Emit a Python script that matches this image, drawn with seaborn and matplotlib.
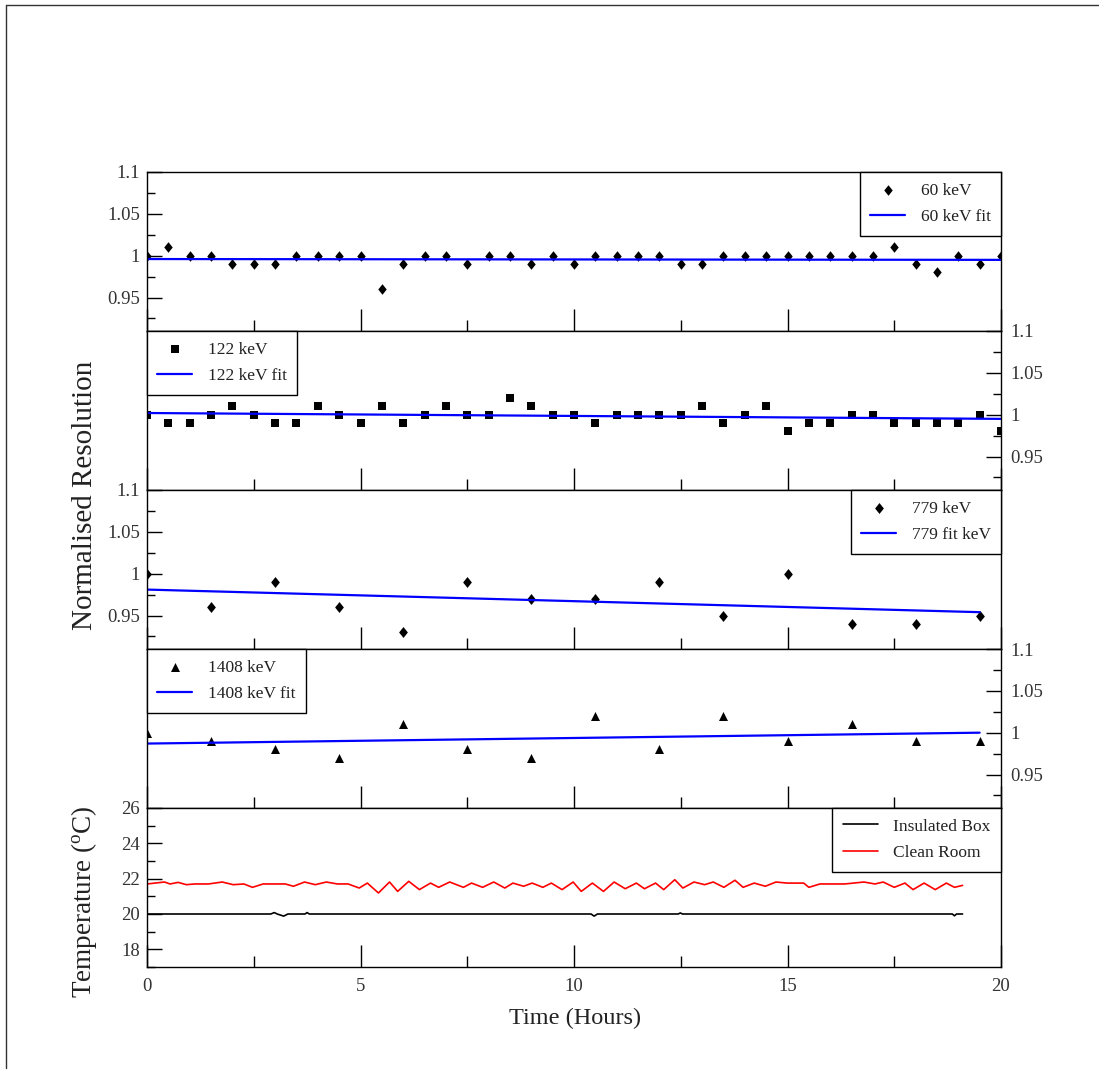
import numpy as np
import pandas as pd
import matplotlib
matplotlib.use("Agg")
import matplotlib.pyplot as plt
from matplotlib.ticker import FixedLocator, FixedFormatter
from matplotlib.lines import Line2D
from matplotlib.path import Path
import seaborn as sns

# ---------------- data ----------------
time_half = [0, 0.5, 1, 1.5, 2, 2.5, 3, 3.5, 4, 4.5, 5, 5.5, 6, 6.5, 7, 7.5, 8, 8.5, 9, 9.5,
             10, 10.5, 11, 11.5, 12, 12.5, 13, 13.5, 14, 14.5, 15, 15.5, 16, 16.5, 17, 17.5,
             18, 18.5, 19, 19.5, 20]
res_60 = [1.00, 1.01, 1.00, 1.00, 0.99, 0.99, 0.99, 1.00, 1.00, 1.00, 1.00, 0.96, 0.99, 1.00,
          1.00, 0.99, 1.00, 1.00, 0.99, 1.00, 0.99, 1.00, 1.00, 1.00, 1.00, 0.99, 0.99, 1.00,
          1.00, 1.00, 1.00, 1.00, 1.00, 1.00, 1.00, 1.01, 0.99, 0.98, 1.00, 0.99, 1.00]
res_122 = [1.00, 0.99, 0.99, 1.00, 1.01, 1.00, 0.99, 0.99, 1.01, 1.00, 0.99, 1.01, 0.99, 1.00,
           1.01, 1.00, 1.00, 1.02, 1.01, 1.00, 1.00, 0.99, 1.00, 1.00, 1.00, 1.00, 1.01, 0.99,
           1.00, 1.01, 0.98, 0.99, 0.99, 1.00, 1.00, 0.99, 0.99, 0.99, 0.99, 1.00, 0.98]

time_15 = [0, 1.5, 3, 4.5, 6, 7.5, 9, 10.5, 12, 13.5, 15, 16.5, 18, 19.5]
res_779 = [1.00, 0.96, 0.99, 0.96, 0.93, 0.99, 0.97, 0.97, 0.99, 0.95, 1.00, 0.94, 0.94, 0.95]
res_1408 = [1.00, 0.99, 0.98, 0.97, 1.01, 0.98, 0.97, 1.02, 0.98, 1.02, 0.99, 1.01, 0.99, 0.99]

fit_60_x, fit_60_y = [0, 20], [0.996, 0.995]
fit_122_x, fit_122_y = [0, 20], [1.002, 0.995]
fit_779_x, fit_779_y = [0, 19.5], [0.981, 0.954]
fit_1408_x, fit_1408_y = [0, 19.5], [0.987, 1.000]

clean_t = [0.0, 0.41, 0.54, 0.73, 0.92, 1.12, 1.44, 1.76, 2.02, 2.27, 2.47, 2.72, 3.24, 3.43,
           3.69, 3.94, 4.20, 4.46, 4.71, 4.97, 5.16, 5.42, 5.68, 5.87, 6.13, 6.38, 6.64, 6.83,
           7.09, 7.41, 7.60, 7.86, 8.12, 8.38, 8.57, 8.82, 9.02, 9.27, 9.47, 9.72, 9.98, 10.17,
           10.43, 10.69, 10.94, 11.20, 11.46, 11.65, 11.91, 12.10, 12.36, 12.55, 12.81, 13.06,
           13.26, 13.51, 13.77, 13.96, 14.22, 14.48, 14.73, 14.99, 15.38, 15.50, 15.76, 16.34,
           16.79, 17.05, 17.24, 17.50, 17.75, 17.94, 18.20, 18.46, 18.72, 18.91, 19.10]
clean_T = [21.70, 21.81, 21.70, 21.79, 21.66, 21.70, 21.70, 21.81, 21.66, 21.70, 21.51, 21.70,
           21.70, 21.57, 21.81, 21.66, 21.81, 21.70, 21.70, 21.47, 21.75, 21.19, 21.81, 21.28,
           21.85, 21.38, 21.75, 21.51, 21.81, 21.51, 21.75, 21.51, 21.81, 21.47, 21.75, 21.57,
           21.75, 21.51, 21.75, 21.38, 21.81, 21.28, 21.75, 21.28, 21.81, 21.43, 21.75, 21.43,
           21.75, 21.38, 21.94, 21.47, 21.81, 21.66, 21.81, 21.51, 21.91, 21.51, 21.75, 21.57,
           21.81, 21.75, 21.75, 21.51, 21.70, 21.70, 21.81, 21.70, 21.81, 21.51, 21.75, 21.38,
           21.75, 21.38, 21.75, 21.51, 21.62]

box_t = [0.0, 2.90, 2.98, 3.05, 3.20, 3.30, 3.70, 3.75, 3.80, 10.40, 10.47, 10.55, 12.44,
         12.49, 12.54, 18.86, 18.91, 18.96, 19.10]
box_T = [20.0, 20.0, 20.08, 20.0, 19.88, 20.0, 20.0, 20.08, 20.0, 20.0, 19.88, 20.0, 20.0,
         20.06, 20.0, 20.0, 19.90, 20.0, 20.0]

x_major = [0, 5, 10, 15, 20]
x_minor = [2.5, 7.5, 12.5, 17.5]
x_labels = ["0", "5", "10", "15", "20"]
res_major = [0.95, 1.0, 1.05, 1.1]
res_minor = [0.925, 0.975, 1.025, 1.075]
res_labels = ["0.95", "1", "1.05", "1.1"]
temp_major = [18, 20, 22, 24, 26]
temp_minor = [17, 19, 21, 23, 25]
temp_labels = ["18", "20", "22", "24", "26"]

# ---------------- style ----------------
sns.set_theme(style="white")
plt.rcParams['font.family'] = ['Liberation Serif', 'DejaVu Serif']
plt.rcParams['mathtext.fontset'] = 'custom'
plt.rcParams['mathtext.rm'] = 'Liberation Serif'
plt.rcParams['mathtext.it'] = 'Liberation Serif:italic'

TICK_COLOR = '#333333'
fig = plt.figure(figsize=(10.99, 10.77), dpi=100)
left, right, top, bottom = 147 / 1099, 1001 / 1099, 1 - 172 / 1077, 1 - 967 / 1077
h = (top - bottom) / 5
axes = [fig.add_axes([left, top - (i + 1) * h, right - left, h]) for i in range(5)]

diamond = Path([(0, 1), (0.8, 0), (0, -1), (-0.8, 0), (0, 1)],
               [Path.MOVETO, Path.LINETO, Path.LINETO, Path.LINETO, Path.CLOSEPOLY])


def style(ax, side, ymajor, yminor, ylabels, ylim, bottom_labels=False):
    for s in ax.spines.values():
        s.set_color('black')
        s.set_linewidth(1.0)
    ax.set_xlim(0, 20)
    ax.set_ylim(*ylim)
    ax.xaxis.set_major_locator(FixedLocator(x_major))
    ax.xaxis.set_minor_locator(FixedLocator(x_minor))
    ax.xaxis.set_major_formatter(FixedFormatter(x_labels))
    ax.tick_params(axis='x', which='both', direction='in', bottom=True, top=False,
                   color='black', width=1.0, labelbottom=bottom_labels,
                   labelsize=13.5, labelcolor=TICK_COLOR, pad=8)
    ax.tick_params(axis='x', which='major', length=16)
    ax.tick_params(axis='x', which='minor', length=8)
    ax.yaxis.set_major_locator(FixedLocator(ymajor))
    ax.yaxis.set_minor_locator(FixedLocator(yminor))
    ax.yaxis.set_major_formatter(FixedFormatter(ylabels))
    if side == 'left':
        ax.tick_params(axis='y', which='both', direction='in', left=True, right=False,
                       labelleft=True, labelright=False, pad=5)
    else:
        ax.tick_params(axis='y', which='both', direction='in', left=False, right=True,
                       labelleft=False, labelright=True, pad=7)
    ax.tick_params(axis='y', which='both', color='black', width=1.0,
                   labelsize=13.5, labelcolor=TICK_COLOR)
    ax.tick_params(axis='y', which='major', length=11)
    ax.tick_params(axis='y', which='minor', length=6)
    ax.set_xlabel('')
    ax.set_ylabel('')


def legend(ax, loc):
    leg = ax.legend(loc=loc, borderaxespad=0, frameon=True, fancybox=False,
                    edgecolor='black', framealpha=1, fontsize=12.5, handlelength=2.0,
                    handletextpad=0.9, labelspacing=0.6, borderpad=0.6, scatterpoints=1)
    leg.get_frame().set_linewidth(1.0)
    for t in leg.get_texts():
        t.set_color('#222222')


ylim_res = (0.91, 1.1)

# Panel 1: 60 keV
ax = axes[0]
sns.scatterplot(x=time_half, y=res_60, marker=diamond, s=58, color='black',
                edgecolor='black', linewidth=0, ax=ax, label='60 keV')
sns.lineplot(x=fit_60_x, y=fit_60_y, color='#0000ff', lw=1.6, ax=ax, label='60 keV fit',
             estimator=None)
style(ax, 'left', res_major, res_minor, res_labels, ylim_res)
legend(ax, 'upper right')

# Panel 2: 122 keV
ax = axes[1]
sns.scatterplot(x=time_half, y=res_122, marker='s', s=40, color='black',
                edgecolor='black', linewidth=0, ax=ax, label='122 keV')
sns.lineplot(x=fit_122_x, y=fit_122_y, color='#0000ff', lw=1.6, ax=ax, label='122 keV fit',
             estimator=None)
style(ax, 'right', res_major, res_minor, res_labels, ylim_res)
legend(ax, 'upper left')

# Panel 3: 779 keV
ax = axes[2]
sns.scatterplot(x=time_15, y=res_779, marker=diamond, s=62, color='black',
                edgecolor='black', linewidth=0, ax=ax, label='779 keV')
sns.lineplot(x=fit_779_x, y=fit_779_y, color='#0000ff', lw=1.6, ax=ax, label='779 fit keV',
             estimator=None)
style(ax, 'left', res_major, res_minor, res_labels, ylim_res)
legend(ax, 'upper right')

# Panel 4: 1408 keV
ax = axes[3]
sns.scatterplot(x=time_15, y=res_1408, marker='^', s=42, color='black',
                edgecolor='black', linewidth=0, ax=ax, label='1408 keV')
sns.lineplot(x=fit_1408_x, y=fit_1408_y, color='#0000ff', lw=1.6, ax=ax, label='1408 keV fit',
             estimator=None)
style(ax, 'right', res_major, res_minor, res_labels, ylim_res)
legend(ax, 'upper left')

# Panel 5: temperature
ax = axes[4]
sns.lineplot(x=box_t, y=box_T, color='black', lw=1.2, ax=ax, label='Insulated Box',
             estimator=None, sort=False)
sns.lineplot(x=clean_t, y=clean_T, color='#ff0000', lw=1.2, ax=ax, label='Clean Room',
             estimator=None, sort=False)
style(ax, 'left', temp_major, temp_minor, temp_labels, (17, 26), bottom_labels=True)
legend(ax, 'upper right')

# axis titles
fig.text(85 / 1099, 1 - 495 / 1077, 'Normalised Resolution', rotation=90, ha='center',
         va='center', fontsize=21, color='#222222')
fig.text(84 / 1099, 1 - 902 / 1077, r'Temperature ($^{\mathrm{o}}$C)', rotation=90,
         ha='center', va='center', fontsize=19.5, color='#222222')
fig.text(575 / 1099, 1 - 1018 / 1077, 'Time (Hours)', ha='center', va='center',
         fontsize=17.5, color='#222222')

# outer frame lines (left and top)
fig.add_artist(Line2D([6 / 1099, 6 / 1099], [1 - 5 / 1077, 1 - 1068 / 1077],
                      transform=fig.transFigure, color='#333333', lw=1.0))
fig.add_artist(Line2D([6 / 1099, 1.0], [1 - 5 / 1077, 1 - 5 / 1077],
                      transform=fig.transFigure, color='#333333', lw=1.0))

fig.savefig('out.png', dpi=100)
